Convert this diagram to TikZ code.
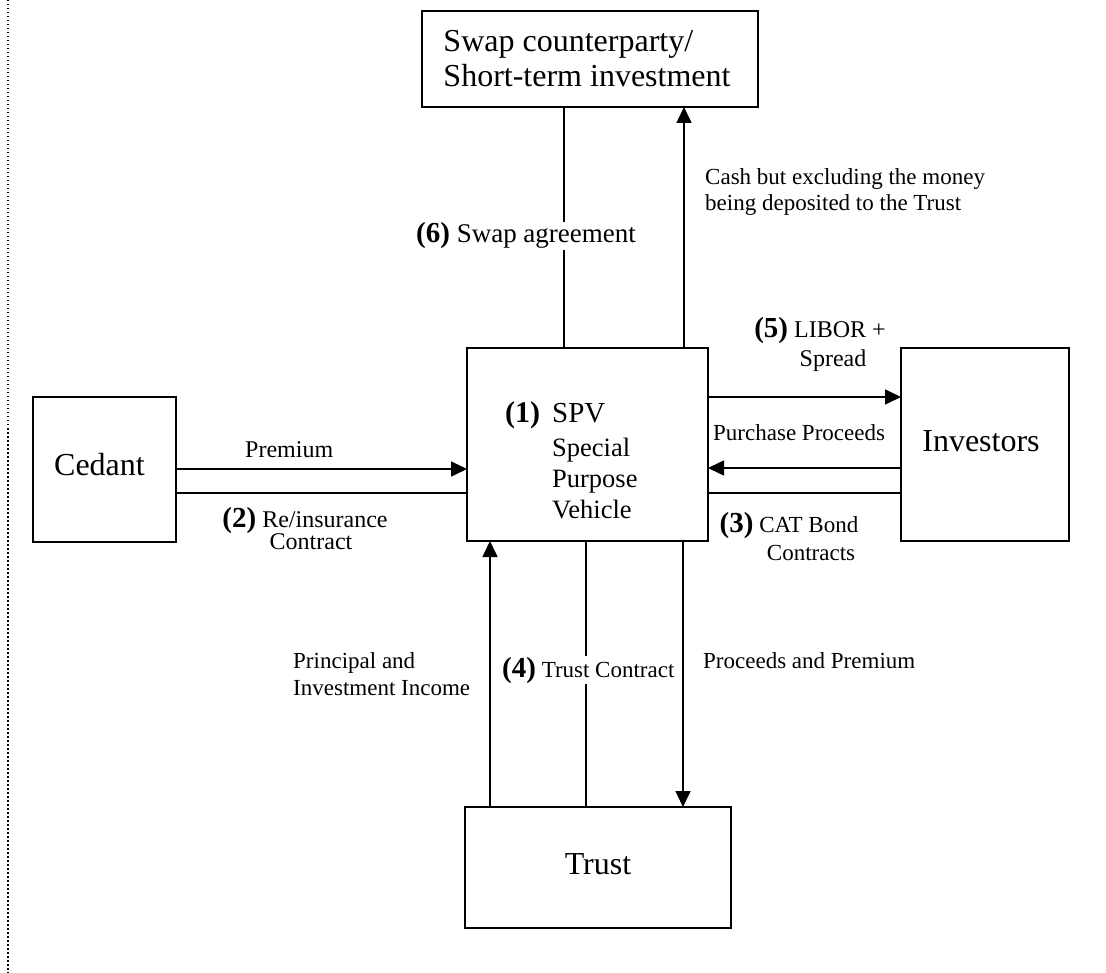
\documentclass[tikz,border=0pt]{standalone}
\usepackage{fontspec}
\setmainfont{Liberation Serif}
\usetikzlibrary{arrows.meta}
\newcommand\bnum[1]{{\fontsize{29}{29}\selectfont\bfseries(#1)}}
\begin{document}
\begin{tikzpicture}[x=1pt,y=-1pt,
  box/.style={draw, line width=1.6pt, inner sep=0pt, outer sep=0pt, font=\fontsize{32}{35}\selectfont},
  ln/.style={line width=1.6pt},
  arr/.style={line width=1.6pt, -{Triangle[length=16pt,width=15pt]}},
  lbl/.style={inner sep=0pt, anchor=base west, font=\fontsize{23}{27}\selectfont},
  cut/.style={fill=white, inner sep=1pt},
]
\useasboundingbox (0,0) rectangle (1106,973);
% page margin line
\coordinate (bt) at (8,0);
\coordinate (bb) at (8,973);
\draw[line width=1.5pt, dash pattern=on 1.5pt off 2.5pt] (bt) -- (bb);

% boxes
\node[box, minimum width=336pt, minimum height=96pt, align=left] (swap) at (590,59)
  {\hspace{-6pt}Swap counterparty/\\\hspace{-6pt}Short-term investment};
\node[box, minimum width=143pt, minimum height=145pt, text depth=10pt] (cedant) at (104.5,469.5) {\hspace{-10pt}Cedant};
\node[box, minimum width=241pt, minimum height=193pt] (spv) at (587.5,444.5) {};
\node[box, minimum width=168pt, minimum height=193pt, text depth=6pt] (inv) at (985,444.5) {\hspace{-8pt}Investors};
\node[box, minimum width=266pt, minimum height=121pt, text depth=6pt] (trust) at (598,867.5) {Trust};

% SPV text
\node[inner sep=0pt, anchor=base west, font=\fontsize{26.5}{31}\selectfont] (spvtxt) at (505,423)
  {\begin{tabular}[t]{@{}l@{\hspace{12pt}}l@{}}
   \fontsize{30}{31}\selectfont\bfseries(1) & \fontsize{29}{31}\selectfont SPV\\[3pt]
   & Special\\
   & Purpose\\
   & Vehicle
   \end{tabular}};

% helper levels
\coordinate (hA) at (0,397);
\coordinate (hB) at (0,469);
\coordinate (hB2) at (0,468);
\coordinate (hC) at (0,493);
\coordinate (vS) at (564,0);
\coordinate (vC) at (684,0);
\coordinate (vP) at (490,0);
\coordinate (vT) at (586,0);
\coordinate (vQ) at (683,0);

% horizontal connectors
\draw[arr] (cedant.east |- hB) -- (spv.west |- hB);
\draw[ln] (cedant.east |- hC) -- (spv.west |- hC);
\draw[arr] (spv.east |- hA) -- (inv.west |- hA);
\draw[arr] (inv.west |- hB2) -- (spv.east |- hB2);
\draw[ln] (inv.west |- hC) -- (spv.east |- hC);

% vertical connectors
\draw[ln] (vS |- spv.north) -- (vS |- swap.south);
\draw[arr] (vC |- spv.north) -- (vC |- swap.south);
\draw[arr] (vP |- trust.north) -- (vP |- spv.south);
\draw[ln] (vT |- trust.north) -- (vT |- spv.south);
\draw[arr] (vQ |- spv.south) -- (vQ |- trust.north);

% labels
\node[lbl, font=\fontsize{24}{27}\selectfont] (lprem) at (245,457) {Premium};
\node[lbl, anchor=base, font=\fontsize{24}{21}\selectfont] (lreins) at (305,527)
  {\begin{tabular}[t]{@{}c@{}}\bnum{2} Re/insurance\\\hspace{12pt}Contract\end{tabular}};
\node[lbl, anchor=base, font=\fontsize{24}{29}\selectfont] (llibor) at (820,338)
  {\begin{tabular}[t]{@{}c@{}}\bnum{5} LIBOR +\\\hspace{26pt}Spread\end{tabular}};
\node[lbl] (lpurch) at (713,440) {Purchase Proceeds};
\node[lbl, anchor=base, font=\fontsize{23}{28}\selectfont] (lcat) at (789,532)
  {\begin{tabular}[t]{@{}c@{}}\bnum{3} CAT Bond\\\hspace{44pt}Contracts\end{tabular}};
\node[lbl, font=\fontsize{23}{26}\selectfont] (lcash) at (705,185)
  {\begin{tabular}[t]{@{}l@{}}Cash but excluding the money\\being deposited to the Trust\end{tabular}};
\node[lbl, cut, font=\fontsize{27}{27}\selectfont] (lswap) at (415,243) {\bnum{6} Swap agreement};
\node[lbl, cut] (ltrust) at (501,677) {\bnum{4} Trust Contract};
\node[lbl] (lproc) at (703,668) {Proceeds and Premium};
\node[lbl, font=\fontsize{23}{27}\selectfont] (lprin) at (293,668)
  {\begin{tabular}[t]{@{}l@{}}Principal and\\Investment Income\end{tabular}};
\end{tikzpicture}
\end{document}
